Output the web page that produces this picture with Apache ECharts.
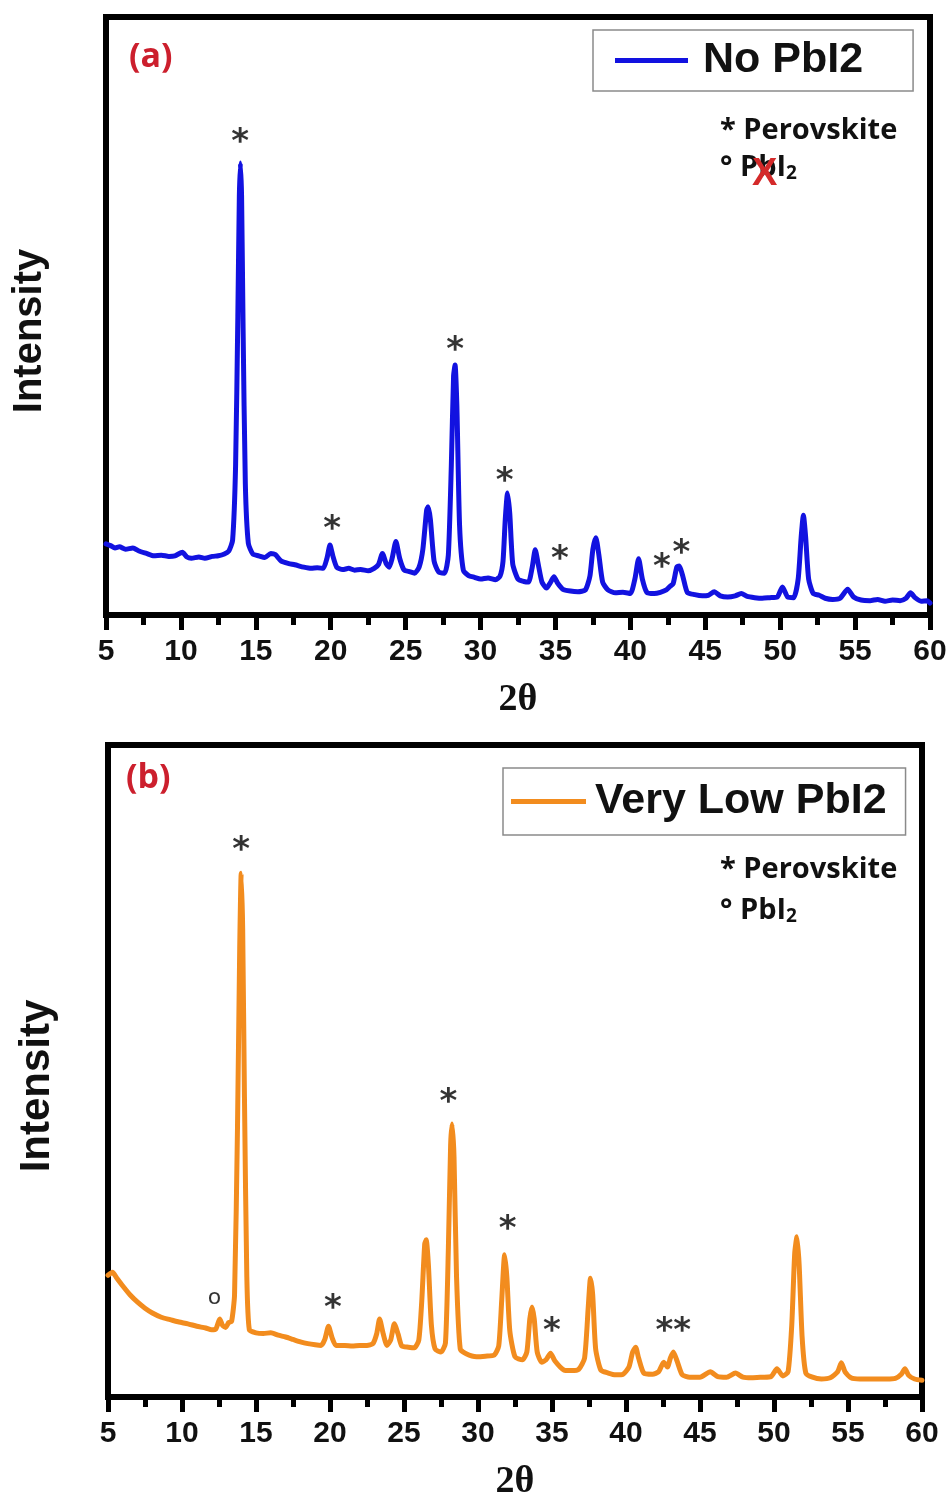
<!DOCTYPE html>
<html>
<head>
<meta charset="utf-8">
<script src="https://cdn.jsdelivr.net/npm/echarts@6/dist/echarts.min.js"></script>
<style>
  html, body { margin: 0; padding: 0; background: #ffffff; }
  #chart { width: 952px; height: 1502px; }
</style>
</head>
<body>
<div id="chart"></div>
<script>
// XRD pattern, sample without PbI2 (panel a)
const twoThetaA = [
  5.0, 5.3, 5.6, 5.9, 6.3, 6.8, 7.2, 7.7, 8.2, 8.7, 9.2, 9.6, 10.1, 10.4, 10.7, 11.2, 11.6, 12.1, 12.5, 12.9,
  13.2, 13.45, 13.65, 13.8, 13.9, 13.97, 14.05, 14.15, 14.3, 14.5, 14.8, 15.2, 15.6, 16.0, 16.3, 16.7, 17.2, 17.6,
  18.2, 18.7, 19.1, 19.5, 19.75, 19.95, 20.15, 20.4, 20.8, 21.2, 21.6, 22.0, 22.5, 22.9, 23.2, 23.45, 23.7, 23.9,
  24.1, 24.35, 24.6, 24.9, 25.2, 25.6, 25.9, 26.15, 26.4, 26.5, 26.65, 26.9, 27.2, 27.6, 27.85, 28.05, 28.2, 28.3,
  28.42, 28.6, 28.85, 29.2, 29.6, 30.0, 30.5, 31.0, 31.3, 31.5, 31.65, 31.8, 31.95, 32.15, 32.5, 32.9, 33.2, 33.45,
  33.65, 33.85, 34.1, 34.4, 34.7, 34.9, 35.15, 35.5, 36.0, 36.5, 37.0, 37.3, 37.5, 37.7, 37.9, 38.15, 38.5, 39.0,
  39.5, 40.0, 40.3, 40.55, 40.8, 41.1, 41.6, 42.0, 42.4, 42.65, 42.85, 43.1, 43.25, 43.5, 43.8, 44.3, 44.8, 45.2,
  45.6, 46.0, 46.5, 47.0, 47.4, 47.8, 48.3, 48.8, 49.3, 49.8, 50.15, 50.5, 50.9, 51.2, 51.4, 51.55, 51.7, 51.9,
  52.2, 52.6, 53.0, 53.5, 54.0, 54.5, 54.9, 55.4, 56.0, 56.5, 57.0, 57.5, 58.0, 58.4, 58.7, 59.0, 59.4, 59.8, 60.0
];
const intensityA = [
  11.9, 11.6, 11.2, 11.4, 11.0, 11.2, 10.7, 10.3, 9.9, 10.0, 9.8, 9.9, 10.5, 9.7, 9.5, 9.7, 9.5, 9.8, 9.9, 10.2,
  10.7, 12.5, 25, 50, 70, 75.6, 70, 48, 22, 12, 10.2, 9.9, 9.6, 10.3, 10.1, 9.0, 8.6, 8.4,
  8.0, 7.8, 7.9, 7.8, 9.5, 11.7, 9.8, 8.0, 7.6, 7.8, 7.5, 7.6, 7.4, 7.8, 8.5, 10.3, 8.6, 8.0,
  9.5, 12.3, 9.5, 7.5, 7.3, 7.0, 8.0, 11, 17.5, 18.1, 16, 9, 7.2, 7.0, 10, 25, 40, 41.8,
  35, 15, 7.5, 6.6, 6.3, 6.0, 6.2, 5.9, 6.5, 9, 16, 20.4, 17, 8.5, 6.0, 5.6, 5.5, 8,
  10.9, 8.5, 5.5, 4.5, 5.6, 6.4, 5.3, 4.3, 4.0, 3.9, 4.2, 6.5, 11, 12.9, 10, 5.5, 4.2, 3.7,
  3.8, 3.6, 6, 9.4, 6, 3.8, 3.6, 3.8, 4.2, 4.8, 5.2, 8.0, 8.2, 6.5, 3.8, 3.4, 3.2, 3.3,
  3.9, 3.2, 3.0, 3.2, 3.6, 3.1, 2.9, 2.8, 2.9, 3.0, 4.7, 3.0, 2.9, 6, 13, 16.7, 13, 6,
  3.6, 3.3, 2.8, 2.6, 2.8, 4.3, 3.0, 2.5, 2.4, 2.6, 2.3, 2.5, 2.4, 2.8, 3.7, 2.9, 2.3, 2.4, 2.0
];

// XRD pattern, sample with very low PbI2 (panel b)
const twoThetaB = [
  5.0, 5.3, 5.6, 6.0, 6.5, 7.0, 7.5, 8.0, 8.6, 9.2, 9.8, 10.4, 11.0, 11.6, 12.0, 12.3, 12.55, 12.75, 12.95, 13.15,
  13.35, 13.55, 13.75, 13.9, 14.0, 14.1, 14.22, 14.38, 14.55, 15.0, 15.5, 16.0, 16.5, 17.0, 17.5, 18.0, 18.5, 19.0,
  19.4, 19.65, 19.9, 20.15, 20.4, 21.0, 21.5, 22.0, 22.5, 22.9, 23.15, 23.35, 23.6, 23.85, 24.1, 24.35, 24.6, 24.85,
  25.3, 25.7, 26.0, 26.2, 26.4, 26.5, 26.65, 26.85, 27.1, 27.5, 27.8, 28.0, 28.15, 28.25, 28.38, 28.55, 28.8, 29.2,
  29.9, 30.5, 31.1, 31.4, 31.6, 31.8, 31.95, 32.15, 32.5, 33.0, 33.3, 33.5, 33.65, 33.8, 34.0, 34.3, 34.6, 34.9,
  35.2, 35.8, 36.3, 36.8, 37.2, 37.45, 37.6, 37.75, 37.95, 38.3, 38.8, 39.3, 39.8, 40.2, 40.45, 40.65, 40.85, 41.2,
  41.8, 42.2, 42.55, 42.8, 43.0, 43.2, 43.45, 43.8, 44.3, 45.0, 45.7, 46.2, 46.8, 47.4, 47.9, 48.5, 49.2, 49.8,
  50.2, 50.6, 50.95, 51.2, 51.4, 51.55, 51.7, 51.9, 52.15, 52.6, 53.2, 53.8, 54.3, 54.55, 54.8, 55.2, 55.8, 56.5,
  57.0, 57.6, 58.2, 58.6, 58.85, 59.1, 59.5, 60.0
];
const intensityB = [
  20.3, 20.8, 19.8, 18.5, 17.0, 15.8, 14.8, 14.0, 13.3, 12.9, 12.5, 12.2, 11.8, 11.5, 11.2, 11.4, 13.0, 11.9, 11.6, 12.4,
  12.6, 17, 45, 75, 87.3, 78, 50, 20, 11.2, 10.7, 10.6, 10.7, 10.3, 10.0, 9.6, 9.2, 8.9, 8.7,
  8.6, 9.6, 11.8, 9.8, 8.6, 8.6, 8.5, 8.6, 8.6, 8.9, 10.5, 13.0, 10.5, 8.6, 9.5, 12.2, 10.5, 8.5,
  8.3, 8.2, 9.5, 16, 25.5, 26.2, 22, 12, 8.0, 7.5, 9, 25, 42, 45.5, 40, 20, 8, 7.2,
  6.7, 6.8, 7.0, 8.5, 16, 23.7, 20, 11, 6.7, 6.2, 7.5, 13, 15.0, 13, 7.5, 5.8, 6.2, 7.3,
  6.0, 4.5, 4.4, 4.6, 6.5, 15, 19.8, 17, 8, 4.5, 4.0, 3.7, 3.8, 5, 7.5, 8.3, 6.5, 4.0,
  3.8, 4.2, 5.8, 5.0, 6.5, 7.5, 6, 3.7, 3.3, 3.3, 4.2, 3.4, 3.3, 4.0, 3.3, 3.2, 3.3, 3.4,
  4.7, 3.5, 4.2, 12, 24, 26.7, 22, 10, 4.0, 3.3, 3.0, 3.2, 4.2, 5.7, 4.2, 3.2, 3.0, 3.0,
  3.0, 3.0, 3.1, 3.8, 4.7, 3.6, 3.0, 2.8
];

// peak markers (* perovskite, o PbI2)
const markA2Theta = [13.95, 20.1, 28.3, 31.6, 35.3, 42.1, 43.4];
const markAIntensity = [80.3, 15.6, 45.5, 23.6, 10.5, 9.2, 11.5];
const markAText = ['*', '*', '*', '*', '*', '*', '*'];

const markB2Theta = [12.2, 14.0, 20.2, 28.0, 32.0, 35.0, 43.2];
const markBIntensity = [16.6, 92.3, 16.0, 50.3, 29.2, 12.2, 12.2];
const markBText = ['o', '*', '*', '*', '*', '*', '**'];

const xTickValues = [5, 10, 15, 20, 25, 30, 35, 40, 45, 50, 55, 60];

const seriesNames = ['No PbI2', 'Very Low PbI2'];
const lineColors = ['#1212e0', '#f28c1e'];

function pairs(xs, ys) { return xs.map((x, i) => [x, ys[i]]); }
function marks(xs, ys, texts) {
  return xs.map((x, i) => {
    const item = { value: [x, ys[i]], name: texts[i] };
    // the PbI2 marker is a small open ring rather than an asterisk
    if (texts[i] === 'o') item.label = { fontSize: 22, fontWeight: 'normal', offset: [0, 1] };
    return item;
  });
}

const chart = echarts.init(document.getElementById('chart'), null, { renderer: 'canvas' });

function xAxisFor(gridIndex) {
  return {
    gridIndex: gridIndex,
    type: 'value',
    min: xTickValues[0],
    max: xTickValues[xTickValues.length - 1],
    interval: 5,
    name: '2θ',
    nameLocation: 'middle',
    nameGap: 66,
    nameTextStyle: { fontFamily: 'Liberation Serif', fontWeight: 'bold', fontSize: 38, color: '#111' },
    axisLine: { show: true, onZero: false, lineStyle: { color: '#000', width: 6 } },
    axisTick: { show: true, inside: false, length: 15, lineStyle: { color: '#000', width: 5 } },
    minorTick: { show: true, splitNumber: 2, length: 10, lineStyle: { color: '#000', width: 5 } },
    axisLabel: { margin: 22, fontFamily: 'Liberation Sans', fontWeight: 'bold', fontSize: 30, color: '#111' },
    splitLine: { show: false },
    minorSplitLine: { show: false }
  };
}
function yAxisFor(gridIndex, maxVal) {
  return {
    gridIndex: gridIndex,
    type: 'value',
    min: 0,
    max: maxVal,
    axisLine: { show: true, lineStyle: { color: '#000', width: 6 } },
    axisTick: { show: false },
    axisLabel: { show: false },
    splitLine: { show: false }
  };
}
function markSeries(name, xi, data) {
  return {
    name: name,
    type: 'scatter',
    xAxisIndex: xi,
    yAxisIndex: xi,
    symbol: 'circle',
    symbolSize: 1,
    itemStyle: { color: 'rgba(0,0,0,0)' },
    silent: true,
    z: 5,
    data: data,
    label: {
      show: true,
      position: 'inside',
      formatter: p => p.name,
      color: '#000',
      fontFamily: 'DejaVu Sans',
      fontWeight: 'bold',
      fontSize: 34,
      offset: [0, 8]
    }
  };
}
function lineSeries(idx, xs, ys) {
  return {
    name: seriesNames[idx], type: 'line', xAxisIndex: idx, yAxisIndex: idx,
    data: pairs(xs, ys),
    showSymbol: false, symbol: 'none', smooth: 0.2,
    lineStyle: { color: lineColors[idx], width: 5, join: 'round', cap: 'round' },
    itemStyle: { color: lineColors[idx] }, z: 3
  };
}

const legendText = (size) => ({ fontFamily: 'Liberation Sans', fontWeight: 'bold', fontSize: size, color: '#111' });
const noteText = { fontFamily: 'Open Sans', fontWeight: 'bold', fontSize: 29, fill: '#111' };
const subRich = { s: { fontFamily: 'Open Sans', fontWeight: 'bold', fontSize: 19, fill: '#111', padding: [12, 0, 0, 0] } };
const axisNameStyle = (size) => ({ fontFamily: 'Liberation Sans', fontWeight: 'bold', fontSize: size, fill: '#111', align: 'center', verticalAlign: 'middle' });

const option = {
  backgroundColor: '#ffffff',
  animation: false,
  grid: [
    { left: 106, right: 22, top: 17, bottom: 887, show: true, borderColor: '#000', borderWidth: 6, backgroundColor: 'transparent' },
    { left: 108, right: 30, top: 745, bottom: 105, show: true, borderColor: '#000', borderWidth: 6, backgroundColor: 'transparent' }
  ],
  xAxis: [xAxisFor(0), xAxisFor(1)],
  yAxis: [yAxisFor(0, 100), yAxisFor(1, 108.7)],
  legend: [
    {
      data: [seriesNames[0]],
      left: 593, top: 30,
      orient: 'horizontal',
      icon: 'rect', itemWidth: 73, itemHeight: 5,
      borderColor: '#8a8a8a', borderWidth: 1.5,
      padding: [9, 50, 9, 22],
      textStyle: Object.assign(legendText(43), { padding: [0, 0, 0, 10] }),
      selectedMode: false
    },
    {
      data: [seriesNames[1]],
      left: 503, top: 768,
      orient: 'horizontal',
      icon: 'rect', itemWidth: 75, itemHeight: 5,
      borderColor: '#8a8a8a', borderWidth: 1.5,
      padding: [12, 19, 12, 8],
      textStyle: Object.assign(legendText(43), { padding: [0, 0, 0, 4] }),
      selectedMode: false
    }
  ],
  series: [
    lineSeries(0, twoThetaA, intensityA),
    lineSeries(1, twoThetaB, intensityB),
    markSeries('marksA', 0, marks(markA2Theta, markAIntensity, markAText)),
    markSeries('marksB', 1, marks(markB2Theta, markBIntensity, markBText))
  ],
  graphic: [
    { type: 'text', x: 30, y: 331, rotation: Math.PI / 2, style: Object.assign({ text: 'Intensity' }, axisNameStyle(40)) },
    { type: 'text', x: 37, y: 1086, rotation: Math.PI / 2, style: Object.assign({ text: 'Intensity' }, axisNameStyle(42)) },
    { type: 'text', left: 129, top: 40, style: { text: '(a)', fontFamily: 'Open Sans', fontWeight: 'bold', fontSize: 34, fill: '#cc1f2d' } },
    { type: 'text', left: 126, top: 761, style: { text: '(b)', fontFamily: 'Open Sans', fontWeight: 'bold', fontSize: 34, fill: '#cc1f2d' } },
    { type: 'text', left: 720, top: 116, style: Object.assign({ text: '* Perovskite' }, noteText) },
    { type: 'text', left: 720, top: 153, style: Object.assign({ text: '° PbI{s|2}', rich: subRich }, noteText) },
    { type: 'text', left: 752, top: 156, z: 10, style: { text: 'X', fontFamily: 'Liberation Sans', fontWeight: 'bold', fontSize: 38, fill: '#d42a2a' } },
    { type: 'text', left: 720, top: 855, style: Object.assign({ text: '* Perovskite' }, noteText) },
    { type: 'text', left: 720, top: 896, style: Object.assign({ text: '° PbI{s|2}', rich: subRich }, noteText) }
  ]
};

chart.setOption(option);
</script>
</body>
</html>
